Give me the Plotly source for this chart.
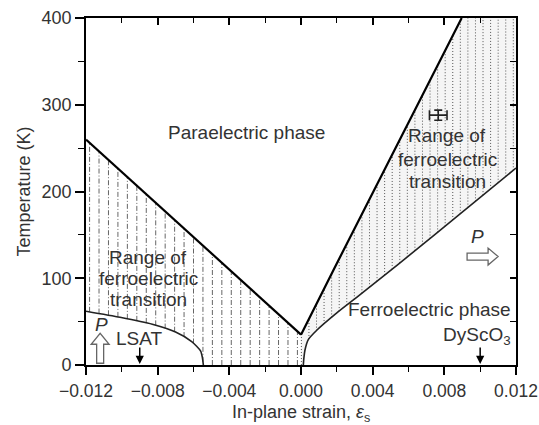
import numpy as np
import plotly.graph_objects as go

# ---------------- data ----------------
# upper boundary of left transition range (thick)
x_upper_left = [-0.012, 0.0]
T_upper_left = [260, 35]
# upper boundary of right transition range (thick)
x_upper_right = [0.0, 0.0018, 0.00897]
T_upper_right = [35, 109, 400]
# ferroelectric boundary, tensile side (thin)
x_fe_right = [0.00013, 0.00016, 0.00022, 0.0004, 0.00088, 0.002, 0.0033, 0.0074, 0.012]
T_fe_right = [0, 8, 17, 29, 40, 60, 81, 149, 227]
# ferroelectric boundary, compressive side (thin)
x_fe_left = [-0.012, -0.0101, -0.0083, -0.0070, -0.0061, -0.0056, -0.0055, -0.00545]
T_fe_left = [62, 55, 47, 38, 27, 16, 8, 0]
# measured point with error bars
x_meas = [0.00766]
T_meas = [288]
x_err = [0.00049]
T_err = [5.8]
# substrates
substrates = ["LSAT", "DyScO<sub>3</sub>"]
substrate_strain = [-0.009, 0.010]

x_ticks = [-0.012, -0.008, -0.004, 0.0, 0.004, 0.008, 0.012]
x_ticklabels = ["\u22120.012", "\u22120.008", "\u22120.004", "0.000", "0.004", "0.008", "0.012"]
y_ticks = [0, 100, 200, 300, 400]

XR = [-0.012, 0.012]
YR = [0, 400]
W, H = 539, 425
ML, MR, MT, MB = 86, 23, 18, 60
PW = W - ML - MR
PH = H - MT - MB
SX = PW / (XR[1] - XR[0])   # px per strain unit
SY = PH / (YR[1] - YR[0])   # px per K

FONT = "Liberation Sans, Arial, Helvetica, sans-serif"
TXT = "#333333"

fig = go.Figure()

# ---------- grey stipple background of right range ----------
poly_x = list(x_fe_right) + [XR[1], x_upper_right[-1]] + list(x_upper_right[::-1]) + [0.0]
poly_y = list(T_fe_right) + [YR[1], YR[1]] + list(T_upper_right[::-1]) + [0]
fig.add_trace(go.Scatter(x=poly_x, y=poly_y, fill="toself", fillcolor="rgba(0,0,0,0.04)",
                         line=dict(width=0), mode="lines", hoverinfo="skip", showlegend=False))

# ---------- hatch lines: left range (dash-dot) ----------
hx, hy = [], []
for xv in np.linspace(-0.0118, -0.0002, 23):
    top = np.interp(xv, x_upper_left, T_upper_left)
    bot = np.interp(xv, x_fe_left, T_fe_left) if xv <= x_fe_left[-1] else 0
    hx += [xv, xv, None]
    hy += [bot, top, None]
fig.add_trace(go.Scatter(x=hx, y=hy, mode="lines",
                         line=dict(color="#555", width=0.9, dash="5px,2px,1px,2px"),
                         hoverinfo="skip", showlegend=False))

# ---------- hatch lines: right range (dotted) ----------
hx, hy = [], []
for xv in np.linspace(0.00002, 0.01185, 29):
    top = min(np.interp(xv, x_upper_right, T_upper_right), 400)
    bot = np.interp(xv, x_fe_right, T_fe_right) if xv >= x_fe_right[0] else 0
    hx += [xv, xv, None]
    hy += [bot, top, None]
fig.add_trace(go.Scatter(x=hx, y=hy, mode="lines",
                         line=dict(color="#555", width=1, dash="1px,2px"),
                         hoverinfo="skip", showlegend=False))

# ---------- boundaries ----------
fig.add_trace(go.Scatter(x=x_upper_left, y=T_upper_left, mode="lines",
                         line=dict(color="black", width=2.2), showlegend=False))
fig.add_trace(go.Scatter(x=x_upper_right, y=T_upper_right, mode="lines",
                         line=dict(color="black", width=2.2), showlegend=False))
fig.add_trace(go.Scatter(x=x_fe_right, y=T_fe_right, mode="lines",
                         line=dict(color="#222", width=1.6, shape="spline", smoothing=0.6), showlegend=False))
fig.add_trace(go.Scatter(x=x_fe_left, y=T_fe_left, mode="lines",
                         line=dict(color="#222", width=1.6, shape="spline", smoothing=0.6), showlegend=False))

# ---------- measured point ----------
fig.add_trace(go.Scatter(x=x_meas, y=T_meas, mode="markers",
                         marker=dict(symbol="line-ns", size=1, line=dict(width=0)),
                         error_x=dict(type="data", array=x_err, width=5, thickness=1.6, color="#222"),
                         error_y=dict(type="data", array=T_err, width=4, thickness=1.6, color="#222"),
                         showlegend=False))

# dummy trace for mirrored axes
fig.add_trace(go.Scatter(x=[XR[0]], y=[YR[0]], xaxis="x2", yaxis="y2", mode="markers",
                         marker=dict(opacity=0), hoverinfo="skip", showlegend=False))

# ---------- substrate arrows ----------
for xs in substrate_strain:
    fig.add_annotation(x=xs, y=0, ax=xs, ay=22, xref="x", yref="y", axref="x", ayref="y",
                       text="", showarrow=True, arrowhead=2, arrowsize=1.1, arrowwidth=1.5,
                       arrowcolor="black", standoff=1)
fig.add_annotation(x=substrate_strain[0], y=31, text=substrates[0], showarrow=False,
                   xanchor="center", yanchor="middle", font=dict(size=19, color=TXT, family=FONT))
fig.add_annotation(x=0.01185, y=33, text=substrates[1], showarrow=False,
                   xanchor="right", yanchor="middle", font=dict(size=19, color=TXT, family=FONT))

# ---------- region labels ----------
def label(x, y, text, xa="center"):
    fig.add_annotation(x=x, y=y, text=text, showarrow=False, xanchor=xa, yanchor="middle",
                       font=dict(size=19, color=TXT, family=FONT))

label(-0.00302, 268, "Paraelectric phase")
for t, yy in zip(["Range of", "ferroelectric", "transition"], [124, 100, 75]):
    label(-0.00852, yy, t)
for t, yy in zip(["Range of", "ferroelectric", "transition"], [264, 237, 211]):
    label(0.00815, yy, t)
label(0.01185, 64, "Ferroelectric phase", xa="right")
label(-0.01116, 47, "<i>P</i>")
label(0.00985, 148, "<i>P</i>")

# x-axis title (placed as annotation for exact vertical placement)
fig.add_annotation(x=0.5, y=-(413 - (H - MB)) / PH, xref="paper", yref="paper",
                   text="In-plane strain, <i>ε</i><sub>s</sub>", showarrow=False,
                   xanchor="center", yanchor="middle", font=dict(size=18, color=TXT, family=FONT))

# ---------- hollow block arrows ----------
def block_arrow(x0, y0, direction, length=30, shaft=7, head_w=18, head_l=11):
    # x0, y0: tail centre in data coords; geometry in px converted to data
    if direction == "up":
        pts = [(-shaft/2, 0), (shaft/2, 0), (shaft/2, length-head_l), (head_w/2, length-head_l),
               (0, length), (-head_w/2, length-head_l), (-shaft/2, length-head_l)]
    else:
        pts = [(0, -shaft/2), (0, shaft/2), (length-head_l, shaft/2), (length-head_l, head_w/2),
               (length, 0), (length-head_l, -head_w/2), (length-head_l, -shaft/2)]
    pts = [(x0 + u / SX, y0 + v / SY) for u, v in pts]
    path = "M " + " L ".join(f"{a},{b}" for a, b in pts) + " Z"
    fig.add_shape(type="path", path=path, xref="x", yref="y",
                  line=dict(color="#666", width=1.3), fillcolor="white", layer="above")

block_arrow(-0.01121, 2, "up", length=30, shaft=7, head_w=18, head_l=11)
block_arrow(0.00927, 125, "right", length=31, shaft=7, head_w=17, head_l=10)

# ---------- axes ----------
axis_common = dict(showline=True, linecolor="black", linewidth=1.6, showgrid=False, zeroline=False,
                   automargin=False)
fig.update_layout(
    width=W, height=H,
    margin=dict(l=ML, r=MR, t=MT, b=MB, autoexpand=False),
    paper_bgcolor="white", plot_bgcolor="white",
    font=dict(family=FONT, color=TXT, size=18),
    xaxis=dict(range=XR, tickvals=x_ticks, ticktext=x_ticklabels, ticks="outside", ticklen=8,
               tickwidth=1.5, tickcolor="black", tickfont=dict(size=17.5, color=TXT), ticklabelstandoff=1,
               minor=dict(dtick=0.002, tick0=0, ticks="outside", ticklen=5, tickwidth=1.3, tickcolor="black"),
               **axis_common),
    yaxis=dict(range=YR, tickvals=y_ticks, ticks="outside", ticklen=9, tickwidth=1.5, tickcolor="black",
               tickfont=dict(size=18, color=TXT),
               minor=dict(dtick=50, tick0=0, ticks="outside", ticklen=6, tickwidth=1.3, tickcolor="black"),
               title=dict(text="Temperature (K)", font=dict(size=18, color=TXT), standoff=6),
               **axis_common),
    xaxis2=dict(range=XR, overlaying="x", side="top", anchor="y2", ticks="inside", ticklen=7,
                tickwidth=1.5, tickcolor="black", dtick=0.004, tick0=0, showticklabels=False,
                minor=dict(dtick=0.002, tick0=0, ticks="inside", ticklen=5, tickwidth=1.3, tickcolor="black"),
                **axis_common),
    yaxis2=dict(range=YR, overlaying="y", side="right", anchor="x2", ticks="inside", ticklen=6,
                tickwidth=1.5, tickcolor="black", dtick=100, tick0=0, showticklabels=False,
                minor=dict(dtick=50, tick0=0, ticks="inside", ticklen=6, tickwidth=1.3, tickcolor="black"),
                **axis_common),
    showlegend=False,
)

fig.write_html("out.html", config={"displayModeBar": False},
               post_script="document.body.style.margin='0';document.body.style.overflow='hidden';")
